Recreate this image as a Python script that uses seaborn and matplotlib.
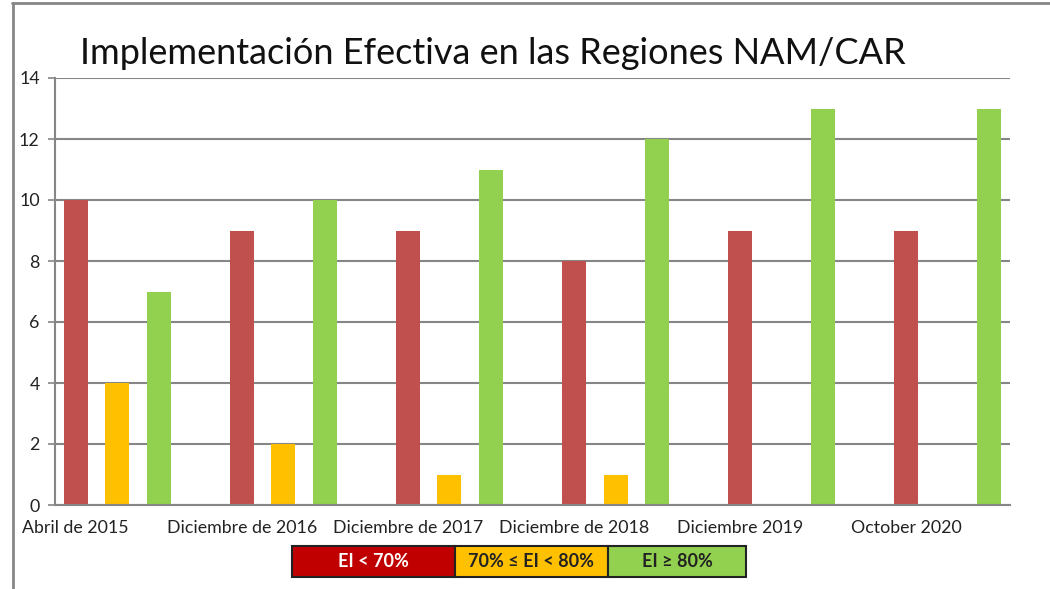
import matplotlib
matplotlib.use("Agg")
import matplotlib.pyplot as plt
from matplotlib.patches import Rectangle
from matplotlib.lines import Line2D
import seaborn as sns
import pandas as pd
import numpy as np

periods = ["Abril de 2015", "Diciembre de 2016", "Diciembre de 2017",
           "Diciembre de 2018", "Diciembre 2019", "October 2020"]
ei_below_70 = [10, 9, 9, 8, 9, 9]
ei_70_80 = [4, 2, 1, 1, 0, 0]
ei_above_80 = [7, 10, 11, 12, 13, 13]
legend_labels = ["EI < 70%", "70% \u2264 EI < 80%", "EI \u2265 80%"]
colors = ["#C0504D", "#FFC000", "#92D050"]
legend_colors = ["#C00000", "#FFC000", "#92D050"]
title = "Implementación Efectiva en las Regiones NAM/CAR"

# Build 23-slot category axis: red, yellow, green, gap per period
rows = []
for i, p in enumerate(periods):
    for j, vals in enumerate([ei_below_70, ei_70_80, ei_above_80]):
        rows.append({"slot": f"s{len(rows)}", "value": vals[i], "series": legend_labels[j]})
    if i < len(periods) - 1:
        rows.append({"slot": f"s{len(rows)}", "value": np.nan, "series": legend_labels[0]})
df = pd.DataFrame(rows)
order = list(df["slot"])

sns.set_theme(style="white")
plt.rcParams["font.family"] = ["Lato", "DejaVu Sans"]

fig = plt.figure(figsize=(10.5, 5.89), dpi=100)
ax = fig.add_axes([55/1050, 1-505/589, (1010-55)/1050, (505-78)/589])

sns.barplot(data=df, x="slot", y="value", hue="series", order=order,
            hue_order=legend_labels, palette=colors, dodge=False,
            width=0.58, ax=ax, legend=False, saturation=1, linewidth=0)

ax.set_xlim(-0.5, len(order) - 0.5)
ax.set_ylim(0, 14)
ax.set_yticks(range(0, 15, 2))
ax.set_xticks([i * 4 for i in range(len(periods))])
ax.set_xticklabels(periods)
ax.set_xticks(np.arange(-0.5, len(order), 1.0), minor=True)
ax.set_xlabel("")
ax.set_ylabel("")
ax.grid(axis="y", color="#868686", linewidth=1.5)
ax.set_axisbelow(True)
for s in ["top", "right"]:
    ax.spines[s].set_visible(False)
for s in ["left", "bottom"]:
    ax.spines[s].set_color("#868686")
    ax.spines[s].set_linewidth(1.5)
ax.tick_params(axis="x", which="major", length=0, labelsize=12.8, colors="#222222", pad=11)
ax.tick_params(axis="x", which="minor", length=5, width=1.2, color="#868686")
ax.tick_params(axis="y", length=5, width=1.2, color="#868686", labelsize=12.8,
               labelcolor="#222222", pad=6, left=True)

fig.text(80/1050, 1-64/589, title, fontsize=26, ha="left", va="baseline", color="#111111")

# Outer chart border (top and left)
fig.add_artist(Line2D([12/1050, 1], [1-3/589, 1-3/589], color="#868686", linewidth=2, transform=fig.transFigure))
fig.add_artist(Line2D([12.5/1050, 12.5/1050], [0, 1-3/589], color="#868686", linewidth=2, transform=fig.transFigure))

# Legend table
edges = [292, 455, 608, 746]
y0, y1 = 546, 577
for k in range(3):
    x0, x1 = edges[k], edges[k+1]
    fig.add_artist(Rectangle((x0/1050, 1-y1/589), (x1-x0)/1050, (y1-y0)/589,
                             facecolor=legend_colors[k], edgecolor="#222222", linewidth=1.5,
                             transform=fig.transFigure))
    fig.text((x0+x1)/2/1050, 1-(y0+y1)/2/589, legend_labels[k], ha="center", va="center",
             fontsize=13, fontweight="bold", color="white" if k == 0 else "#222222")

fig.savefig("out.png", dpi=100)
